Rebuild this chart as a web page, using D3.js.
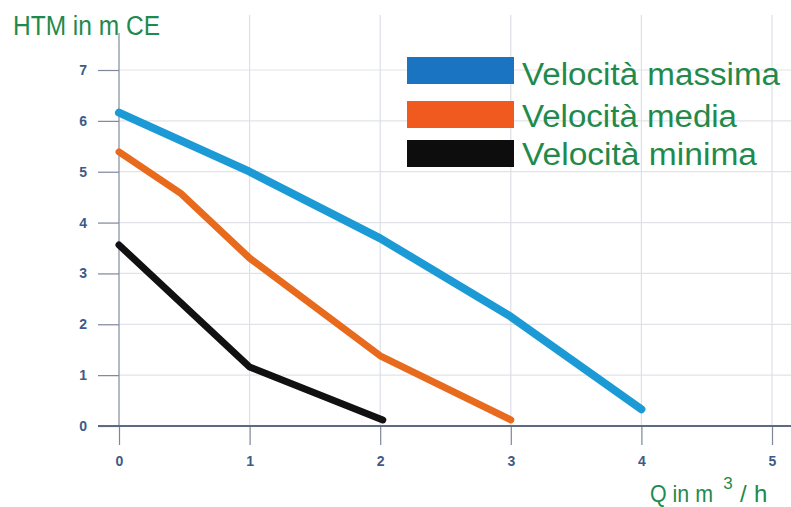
<!DOCTYPE html>
<html>
<head>
<meta charset="utf-8">
<script src="https://cdn.jsdelivr.net/npm/d3@7"></script>
<style>
  body { margin: 0; background: #fff; }
  svg { display: block; }
</style>
</head>
<body>
<svg width="791" height="507"></svg>
<script>
// Pump curves
const qMax = [0, 1, 2, 3, 4];
const hMax = [6.16, 5.0, 3.69, 2.15, 0.33];
const qMed = [0, 0.47, 1, 2, 3];
const hMed = [5.39, 4.58, 3.3, 1.38, 0.12];
const qMin = [0, 1, 2.02];
const hMin = [3.56, 1.16, 0.12];

const seriesNames = ['Velocità massima', 'Velocità media', 'Velocità minima'];
const xTicks = [0, 1, 2, 3, 4, 5];
const yTicks = [0, 1, 2, 3, 4, 5, 6, 7];

const lineColors = ['#1b9ad6', '#e86a1c', '#111111'];
const legendColors = ['#1a74c2', '#f05a1e', '#0d0d0d'];
const green = '#1f8a4c';
const tickColor = '#3d5b88';

const svg = d3.select('svg');

const x = d3.scaleLinear().domain([0, 5]).range([119, 772]);
const y = d3.scaleLinear().domain([0, 7]).range([426, 70]);

// grid
svg.append('g').selectAll('line')
    .data(yTicks.filter(d => d > 0))
    .enter().append('line')
    .attr('x1', x(0)).attr('x2', 791)
    .attr('y1', d => y(d)).attr('y2', d => y(d))
    .attr('stroke', '#e1e3e9').attr('stroke-width', 1.2);

svg.append('g').selectAll('line')
    .data(xTicks.filter(d => d > 0))
    .enter().append('line')
    .attr('x1', d => x(d)).attr('x2', d => x(d))
    .attr('y1', 15).attr('y2', y(0))
    .attr('stroke', '#dcdfe7').attr('stroke-width', 1.2);

// y axis
const yAxis = svg.append('g')
    .attr('transform', `translate(${x(0)},0)`)
    .call(d3.axisLeft(y).tickValues(yTicks).tickFormat(d3.format('d'))
        .tickSize(21).tickPadding(11));
yAxis.select('.domain').remove();

// x axis
const xAxis = svg.append('g')
    .attr('transform', `translate(0,${y(0)})`)
    .call(d3.axisBottom(x).tickValues(xTicks).tickFormat(d3.format('d'))
        .tickSize(19).tickPadding(11));
xAxis.select('.domain').remove();

svg.selectAll('.tick line').attr('stroke', '#7d869a').attr('stroke-width', 1.2);
svg.selectAll('.tick text')
    .attr('fill', tickColor)
    .style('font-family', '"Liberation Sans", Arial, sans-serif')
    .style('font-weight', 'bold')
    .style('font-size', '14px');

// axis lines
svg.append('line')
    .attr('x1', x(0)).attr('x2', x(0))
    .attr('y1', 33).attr('y2', y(0))
    .attr('stroke', '#8b93a8').attr('stroke-width', 1.3);
svg.append('line')
    .attr('x1', 98).attr('x2', 791)
    .attr('y1', y(0)).attr('y2', y(0))
    .attr('stroke', '#5f6a80').attr('stroke-width', 2);

// curves
const curves = [
    qMax.map((q, i) => [q, hMax[i]]),
    qMed.map((q, i) => [q, hMed[i]]),
    qMin.map((q, i) => [q, hMin[i]])
];
const line = d3.line().x(d => x(d[0])).y(d => y(d[1]));

svg.append('g').selectAll('path')
    .data(curves)
    .enter().append('path')
    .attr('d', line)
    .attr('fill', 'none')
    .attr('stroke', (d, i) => lineColors[i])
    .attr('stroke-width', (d, i) => i === 0 ? 8 : 7)
    .attr('stroke-linejoin', 'round')
    .attr('stroke-linecap', 'round');

// legend
const legendTop = [57, 101, 140];
const legendBase = [85, 127, 165];
const legendLen = [258, 215, 235];
const legend = svg.append('g');
seriesNames.forEach((name, i) => {
    legend.append('rect')
        .attr('x', 407).attr('y', legendTop[i])
        .attr('width', 107).attr('height', 27)
        .attr('fill', legendColors[i]);
    legend.append('text')
        .attr('x', 522).attr('y', legendBase[i])
        .attr('fill', green)
        .attr('textLength', legendLen[i])
        .attr('lengthAdjust', 'spacingAndGlyphs')
        .style('font-family', '"Liberation Sans", Arial, sans-serif')
        .style('font-size', '31px')
        .text(name);
});

// axis titles
const titleFont = '"Liberation Sans", Arial, sans-serif';
svg.append('text')
    .attr('x', 13).attr('y', 35)
    .attr('fill', green)
    .attr('textLength', 147)
    .attr('lengthAdjust', 'spacingAndGlyphs')
    .style('font-family', titleFont)
    .style('font-size', '27px')
    .text('HTM in m CE');

svg.append('text')
    .attr('x', 650).attr('y', 502)
    .attr('fill', green)
    .attr('textLength', 63)
    .attr('lengthAdjust', 'spacingAndGlyphs')
    .style('font-family', titleFont)
    .style('font-size', '24px')
    .text('Q in m');
svg.append('text')
    .attr('x', 728).attr('y', 489)
    .attr('text-anchor', 'middle')
    .attr('fill', green)
    .style('font-family', titleFont)
    .style('font-size', '17px')
    .text('3');
svg.append('text')
    .attr('x', 740).attr('y', 502)
    .attr('fill', green)
    .style('font-family', titleFont)
    .style('font-size', '24px')
    .text('/');
svg.append('text')
    .attr('x', 754).attr('y', 502)
    .attr('fill', green)
    .style('font-family', titleFont)
    .style('font-size', '24px')
    .text('h');
</script>
</body>
</html>
